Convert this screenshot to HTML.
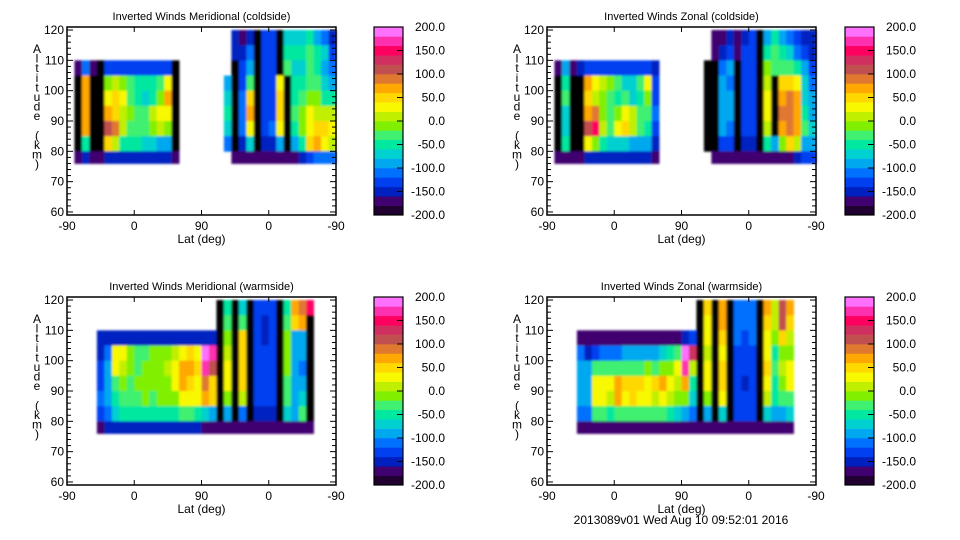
<!DOCTYPE html>
<html><head><meta charset="utf-8"><style>
html,body{margin:0;padding:0;background:#fff;width:960px;height:540px;overflow:hidden}
svg text{font-family:"Liberation Sans",sans-serif;fill:#000}
</style></head><body>
<svg id="chart" width="960" height="540" viewBox="0 0 960 540" xmlns="http://www.w3.org/2000/svg">
<defs><filter id="soft" x="-5%" y="-5%" width="110%" height="110%"><feGaussianBlur stdDeviation="1.1"/></filter></defs>
</svg>
<script>
const N = null;
const xTickLabels = ["-90","0","90","0","-90"];
const yTickValues = [60,70,80,90,100,110,120];
const cbarLabels = ["200.0","150.0","100.0","50.0","0.0","-50.0","-100.0","-150.0","-200.0"];
const rowAltitudes = [120,115,110,105,100,95,90,85,80];
const merCold = [
[N,N,N,N,N,N,N,N,N,N,N,N,N,N,N,N,N,N,N,N,N,N,-160,-170,-150,-250,-140,-140,-250,-80,-80,-70,-60,-100,-120,-160],
[N,N,N,N,N,N,N,N,N,N,N,N,N,N,N,N,N,N,N,N,N,N,-160,-150,-120,-250,-140,-140,-250,-60,-60,-50,-40,-60,-80,-140],
[N,-170,-120,-170,-250,-130,-130,-130,-130,-130,-130,-130,-130,-130,-250,N,N,N,N,N,N,N,-250,-140,-100,-250,-140,-140,-250,-40,-70,-70,-30,-50,-90,-120],
[N,-250,60,-250,-250,-20,0,-20,-40,-50,-60,-60,-40,20,-250,N,N,N,N,N,N,-100,-250,-130,-30,-250,-140,-140,20,-250,-50,-60,-40,-30,-70,-100],
[N,-250,60,-250,-250,30,40,20,-30,-50,-80,-60,-20,60,-250,N,N,N,N,N,N,-80,-250,-120,50,-250,-140,-140,40,-250,-50,-40,-10,-20,-50,-60],
[N,-250,60,-250,-250,60,40,10,-20,-40,-30,0,20,30,-250,N,N,N,N,N,N,-60,-250,-110,60,-250,-130,-130,50,-250,-40,-20,20,10,0,0],
[N,-250,60,-250,-250,110,90,10,-40,-40,-30,-20,0,-20,-250,N,N,N,N,N,N,-80,-250,-110,30,-250,-130,-120,20,-250,-60,-20,30,40,40,20],
[N,-250,-60,-250,-250,40,0,-50,-60,-60,-70,-80,-90,-100,-250,N,N,N,N,N,N,-120,-250,-150,-80,-250,-150,-150,-100,-250,-100,-60,40,60,20,0],
[N,-170,-150,-170,-170,-160,-160,-160,-160,-160,-160,-160,-160,-160,-170,N,N,N,N,N,N,N,-180,-180,-180,-180,-180,-180,-180,-180,-170,-160,-130,-120,-120,-120]];
const zonCold = [
[N,N,N,N,N,N,N,N,N,N,N,N,N,N,N,N,N,N,N,N,N,N,-170,-180,-150,-170,-150,-140,-250,-90,-60,-90,-120,-130,-150,-160],
[N,N,N,N,N,N,N,N,N,N,N,N,N,N,N,N,N,N,N,N,N,N,-170,-150,-130,-170,-140,-140,-250,-60,-40,-60,-80,-110,-130,-150],
[N,-170,-100,-170,-150,-140,-140,-140,-140,-140,-140,-140,-140,-140,-150,N,N,N,N,N,N,-250,-250,-110,-100,-250,-140,-140,-250,-20,-40,-30,-30,-60,-100,-130],
[N,-250,-50,-250,-250,60,20,0,-20,-40,-70,-80,-40,20,-140,N,N,N,N,N,N,-250,-250,-100,-110,-250,-130,-140,-250,10,-250,40,50,20,-80,-110],
[N,-250,-40,-250,-250,40,0,-20,-40,-50,-40,-70,-60,-20,-130,N,N,N,N,N,N,-250,-250,-100,-100,-250,-140,-140,-250,20,-250,70,80,60,-70,-100],
[N,-250,-70,-250,-250,60,80,-20,-30,-10,20,0,-30,-40,-120,N,N,N,N,N,N,-250,-250,-90,-100,-250,-140,-130,-250,30,-250,80,90,70,-60,-90],
[N,-250,-80,-250,-250,100,140,10,-30,20,40,10,-40,-50,-140,N,N,N,N,N,N,-250,-250,-100,-120,-250,-140,-130,-250,0,-250,60,90,60,-40,-80],
[N,-250,-60,-250,-250,20,-20,-50,-70,-80,-80,-90,-100,-100,-150,N,N,N,N,N,N,-250,-250,-130,-140,-250,-150,-150,-250,-50,-100,-20,40,0,-90,-100],
[N,-170,-170,-170,-170,-160,-160,-160,-160,-160,-160,-160,-160,-160,-170,N,N,N,N,N,N,N,-180,-180,-180,-180,-180,-180,-180,-180,-170,-170,-170,-150,-140,-140]];
const merWarm = [
[N,N,N,N,N,N,N,N,N,N,N,N,N,N,N,N,N,N,N,N,-250,-60,-250,-80,-250,-140,-140,-140,-250,-60,60,80,150,N,N,N],
[N,N,N,N,N,N,N,N,N,N,N,N,N,N,N,N,N,N,N,N,-250,-40,-250,-40,-250,-140,-150,-140,-250,-40,40,60,-250,N,N,N],
[N,N,N,N,-160,-150,-150,-150,-150,-150,-150,-150,-150,-150,-150,-150,-150,-150,-160,-160,-250,-20,-250,40,-250,-140,-150,-140,-250,-20,-90,-90,-250,N,N,N],
[N,N,N,N,-150,-120,30,20,-20,-30,-30,-20,-20,-10,0,20,40,30,180,160,-250,0,-250,40,-250,-140,-140,-140,-250,-20,-100,-100,-250,N,N,N],
[N,N,N,N,-140,-100,30,10,-20,-30,-20,-20,-10,0,20,60,70,40,170,100,-250,20,-250,50,-250,-130,-130,-130,-250,-20,-100,-110,-250,N,N,N],
[N,N,N,N,-130,-90,-40,-20,-30,-10,-20,-10,-10,-10,20,60,40,30,90,40,-250,20,-250,40,-250,-130,-130,-130,-250,-30,-100,-100,-250,N,N,N],
[N,N,N,N,-120,-100,-60,-40,-30,-30,-10,-30,-20,-20,-10,30,20,20,60,50,-250,-20,-250,0,-250,-140,-140,-140,-250,-40,-90,-80,-250,N,N,N],
[N,N,N,N,-140,-120,-80,-60,-60,-60,-50,-60,-60,-60,-60,-40,-40,-60,-80,-100,-250,-100,-250,-120,-250,-150,-150,-150,-250,-80,-100,-40,-250,N,N,N],
[N,N,N,N,-170,-160,-160,-160,-160,-160,-160,-160,-160,-160,-160,-160,-160,-160,-170,-170,-170,-170,-180,-180,-180,-180,-180,-180,-180,-170,-170,-170,-170,N,N,N]];
const zonWarm = [
[N,N,N,N,N,N,N,N,N,N,N,N,N,N,N,N,N,N,N,N,-250,40,-250,60,-250,-110,-120,-110,-250,60,10,110,60,N,N,N],
[N,N,N,N,N,N,N,N,N,N,N,N,N,N,N,N,N,N,N,N,-250,30,-250,60,-250,-110,-120,-110,-250,40,0,100,40,N,N,N],
[N,N,N,N,-170,-170,-170,-170,-170,-170,-170,-170,-170,-170,-170,-170,-170,-170,-160,-140,-250,20,-250,40,-250,-120,-130,-120,-250,20,-20,40,0,N,N,N],
[N,N,N,N,-120,-150,-130,-120,-110,-110,-100,-100,-100,-90,-90,-80,-60,-40,180,120,-250,0,-250,30,-250,-130,-130,-130,-250,30,-60,-20,-20,N,N,N],
[N,N,N,N,-100,-100,-40,-40,-40,-30,-30,-30,-30,-20,-30,-20,-10,20,170,0,-250,20,-250,40,-250,-130,-140,-130,-250,40,-40,0,20,N,N,N],
[N,N,N,N,-100,-100,20,30,30,60,40,50,40,30,40,60,30,0,60,-60,-250,20,-250,40,-250,-140,-150,-140,-250,30,-60,-20,20,N,N,N],
[N,N,N,N,-100,-100,20,20,10,60,20,40,20,20,10,20,10,-10,-20,-80,-250,-20,-250,20,-250,-140,-140,-140,-250,0,-60,-40,-40,N,N,N],
[N,N,N,N,-120,-120,-40,-40,-50,-40,-40,-40,-40,-40,-40,-40,-50,-80,-100,-120,-250,-100,-250,-80,-250,-140,-140,-140,-250,-80,-100,-100,-80,N,N,N],
[N,N,N,N,-170,-170,-170,-170,-170,-170,-170,-170,-170,-170,-170,-170,-170,-170,-170,-170,-170,-170,-180,-180,-180,-180,-180,-180,-180,-170,-170,-170,-170,N,N,N]];

const palette = ["#200030","#400070","#0020c0","#0040f0","#0070ff","#00a8f0","#00d0d0","#00e8a0","#40f070","#80f000","#c0f000","#f8f800","#ffd800","#ffa800","#e07830","#c05050","#d03060","#ff0060","#ff30b0","#ff70ff"];
const NS = "http://www.w3.org/2000/svg";
const svg = document.getElementById('chart');
function mk(tag, attrs, parent){const e=document.createElementNS(NS,tag);for(const k in attrs)e.setAttribute(k,attrs[k]);(parent||svg).appendChild(e);return e;}
function colorFor(v){if(v<=-240)return "#000";let i=Math.floor((v+200)/20);i=Math.max(0,Math.min(19,i));return palette[i];}

function panel(ox, oy, title, data, cbx, name){
  const g = mk('g',{});
  
  
  const px0=ox+67, pw=269, py0=oy+27, ph=188;
  const xS = u => px0 + u*pw/360;
  const yS = a => py0 + (121-a)/62*ph;
  const cells = mk('g',{filter:'url(#soft)'},g);
  
  
  data.forEach((row,r)=>{
    const aTop=rowAltitudes[r], aBot=aTop-5;
    row.forEach((v,c)=>{
      if(v===null)return;
      const x1=xS(c*10), x2=xS(c*10+10);
      const y1=yS(Math.min(aTop,120)), y2=yS(aBot)+(r===rowAltitudes.length-1?-3:0);
      const rc=mk('rect',{x:x1,y:y1,width:x2-x1+0.4,height:y2-y1+0.4,fill:colorFor(v)},cells);
      
      
    });
  });
  const frame=mk('rect',{x:px0,y:py0,width:pw,height:ph,fill:'none',stroke:'#000','stroke-width':1.5},g);
  
  
  for(let a=60;a<=120;a+=2){
    const y=yS(a), L=(a%10===0)?6:4;
    mk('line',{x1:px0,y1:y,x2:px0+L,y2:y,stroke:'#000'},g);
    mk('line',{x1:px0+pw,y1:y,x2:px0+pw-L,y2:y,stroke:'#000'},g);
  }
  yTickValues.forEach(a=>{
    const t=mk('text',{x:px0-3,y:yS(a)+4,'text-anchor':'end','font-size':12},g);
    t.textContent=a;
    
    
  });
  xTickLabels.forEach((lab,i)=>{
    const x=xS(i*90);
    mk('line',{x1:x,y1:py0+ph,x2:x,y2:py0+ph-5,stroke:'#000'},g);
    mk('line',{x1:x,y1:py0,x2:x,y2:py0+5,stroke:'#000'},g);
    const t=mk('text',{x:x,y:py0+ph+15,'text-anchor':'middle','font-size':12},g);
    t.textContent=lab;
    
    
  });
  const xt=mk('text',{x:px0+pw/2,y:py0+ph+28,'text-anchor':'middle','font-size':12},g);
  xt.textContent='Lat (deg)';
  
  
  const tt=mk('text',{x:px0+pw/2,y:oy+20,'text-anchor':'middle','font-size':11},g);
  tt.textContent=title;
  
  
  const yl=mk('g',{},g);
  
  
  "Altitude (km)".split('').forEach((ch,i)=>{
    const t=mk('text',{x:ox+37,y:oy+53+i*9.6,'text-anchor':'middle','font-size':12},yl);
    t.textContent=ch;
  });
  const cb=mk('g',{},g);
  
  
  const bh=ph/20;
  palette.forEach((col,i)=>{mk('rect',{x:cbx,y:py0+ph-(i+1)*bh,width:29,height:bh+0.3,fill:col},cb);});
  mk('rect',{x:cbx,y:py0,width:29,height:ph,fill:'none',stroke:'#000','stroke-width':1.2},cb);
  cbarLabels.forEach((lab,i)=>{
    const y=py0+i*ph/8;
    if(i>0&&i<8)mk('line',{x1:cbx+29,y1:y,x2:cbx+23,y2:y,stroke:'#000'},cb);
    const t=mk('text',{x:cbx+71,y:y+4,'text-anchor':'end','font-size':12},cb);
    t.textContent=lab;
    
    
  });
}
panel(0,0,'Inverted Winds Meridional (coldside)',merCold,374,'panel-meridional-coldside');
panel(480,0,'Inverted Winds Zonal (coldside)',zonCold,845,'panel-zonal-coldside');
panel(0,270,'Inverted Winds Meridional (warmside)',merWarm,374,'panel-meridional-warmside');
panel(480,270,'Inverted Winds Zonal (warmside)',zonWarm,845,'panel-zonal-warmside');
const ft=mk('text',{x:681,y:524,'text-anchor':'middle','font-size':12});
ft.textContent='2013089v01 Wed Aug 10 09:52:01 2016';


</script>
</body></html>
